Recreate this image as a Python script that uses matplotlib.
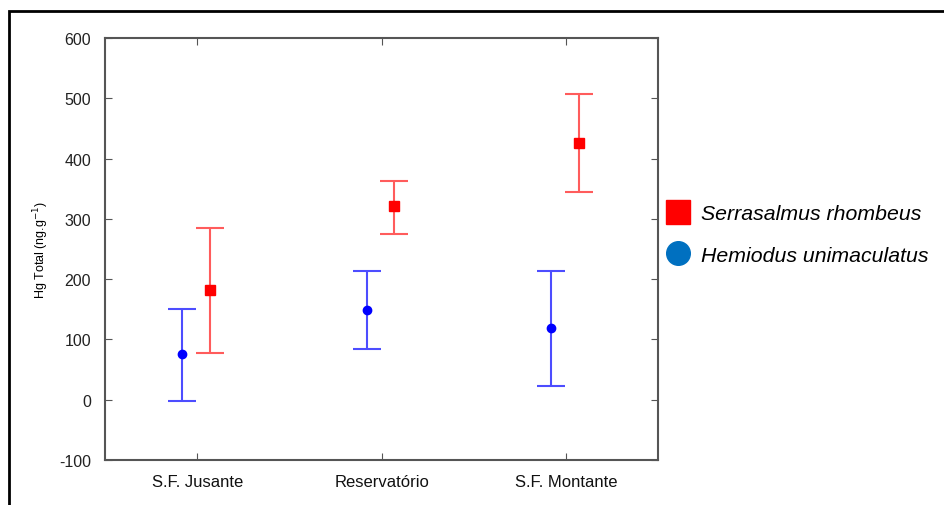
import numpy as np
import matplotlib
matplotlib.use("Agg")
import matplotlib.pyplot as plt
from matplotlib.patches import Rectangle
from matplotlib.lines import Line2D

plt.rcParams['font.family'] = ['Liberation Sans', 'DejaVu Sans']
plt.rcParams['axes.unicode_minus'] = False

sites = ['S.F. Jusante', 'Reservatório', 'S.F. Montante']
# Hemiodus unimaculatus (blue)
hu_mean = [76, 149, 119]
hu_low = [-2, 84, 23]
hu_high = [150, 213, 213]
# Serrasalmus rhombeus (red)
sr_mean = [182, 321, 426]
sr_low = [77, 275, 344]
sr_high = [285, 363, 507]

fig = plt.figure(figsize=(9.44, 5.06), dpi=100)
ax = fig.add_axes([0.1112, 0.0889, 0.586, 0.834])

x = np.arange(1, len(sites) + 1)

def draw(offset, mean, low, high, line_c, mark_c, marker, ms):
    mean = np.array(mean)
    err = [mean - np.array(low), np.array(high) - mean]
    ax.errorbar(x + offset, mean, yerr=err, fmt='none', ecolor=line_c,
                elinewidth=1.5, capsize=10, capthick=1.5, zorder=2)
    ax.plot(x + offset, mean, linestyle='none', marker=marker, ms=ms,
            color=mark_c, zorder=3)

draw(-0.08, hu_mean, hu_low, hu_high, '#4d4dff', '#0000ff', 'o', 6)
draw(0.07, sr_mean, sr_low, sr_high, '#ff5c5c', '#ff0000', 's', 7)

ax.set_xlim(0.5, 3.5)
ax.set_ylim(-100, 600)
ax.set_xticks(x)
ax.set_xticklabels(sites, fontsize=12)
ax.set_yticks(np.arange(-100, 601, 100))
ax.tick_params(axis='both', direction='in', length=5, color='#555555',
               top=True, right=True)
ax.tick_params(axis='y', labelsize=11.5, pad=10, labelcolor='#222222')
ax.tick_params(axis='x', pad=10, labelcolor='#111111')
for s in ax.spines.values():
    s.set_color('#555555')
    s.set_linewidth(1.5)
ax.set_ylabel('Hg Total (ng.g$^{-1}$)', fontsize=9, labelpad=6)

handles = [Line2D([], [], linestyle='none', marker='s', ms=17, color='#ff0000'),
           Line2D([], [], linestyle='none', marker='o', ms=17, color='#0070c0')]
fig.legend(handles, ['Serrasalmus rhombeus', 'Hemiodus unimaculatus'],
           loc='upper left', bbox_to_anchor=(0.6865, 0.611), frameon=False,
           prop={'style': 'italic', 'size': 15.3}, handletextpad=0.1,
           labelspacing=1.05, borderaxespad=0)

fig.add_artist(Rectangle((9 / 944, -0.1), 1.2, 1.1 - 12 / 506,
                         transform=fig.transFigure, fill=False,
                         edgecolor='black', linewidth=2, clip_on=False))

fig.savefig('out.png', dpi=100)
